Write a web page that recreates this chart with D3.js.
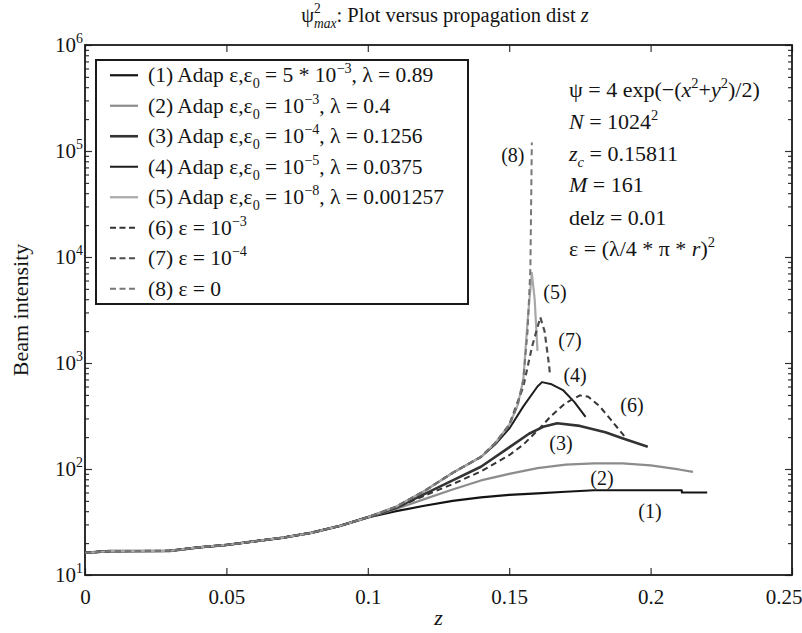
<!DOCTYPE html>
<html><head><meta charset="utf-8">
<script src="https://cdn.jsdelivr.net/npm/d3@7"></script>
<style>
body{margin:0;background:#fff}
text{font-family:"Liberation Serif","Times New Roman",serif;fill:#141414}
</style>
</head><body>
<svg id="c" width="802" height="633"></svg>
<script>
// ---------- data ----------
const xTicks = [0, 0.05, 0.1, 0.15, 0.2, 0.25];
const yExponents = [1, 2, 3, 4, 5, 6];

// shared early part of every curve
const zBase = [0, 0.0088, 0.03, 0.04, 0.05, 0.06, 0.07, 0.08, 0.09, 0.1];
const vBase = [16.2, 16.8, 16.9, 18.2, 19.2, 20.8, 22.5, 25, 29, 35];

const z1 = [0.11, 0.12, 0.13, 0.14, 0.15, 0.16, 0.17, 0.18, 0.19, 0.2, 0.211, 0.2111, 0.22];
const v1 = [40, 45, 50, 54, 57, 59, 61, 63, 63, 63, 63, 60, 60];

const z2 = [0.11, 0.12, 0.13, 0.14, 0.15, 0.16, 0.17, 0.18, 0.19, 0.2, 0.21, 0.215];
const v2 = [42, 52, 64, 78, 90, 102, 110, 113, 113, 108, 99, 94];

const z3 = [0.11, 0.12, 0.13, 0.14, 0.15, 0.157, 0.162, 0.167, 0.175, 0.184, 0.19, 0.199];
const v3 = [43, 58, 78, 105, 160, 215, 250, 270, 255, 222, 195, 162];

const z4 = [0.11, 0.12, 0.13, 0.14, 0.145, 0.15, 0.155, 0.16, 0.1616, 0.165, 0.169, 0.173, 0.177];
const v4 = [44, 62, 92, 130, 170, 240, 390, 600, 660, 630, 556, 430, 310];

const z5 = [0.11, 0.12, 0.13, 0.14, 0.145, 0.15, 0.153, 0.155, 0.1565, 0.158, 0.159, 0.16];
const v5 = [44, 62, 92, 130, 175, 260, 400, 700, 2500, 7100, 4000, 1300];

const z6 = [0.11, 0.12, 0.13, 0.14, 0.15, 0.155, 0.16, 0.165, 0.17, 0.175, 0.178, 0.182, 0.186, 0.191];
const v6 = [43, 56, 72, 95, 135, 170, 230, 320, 420, 495, 480, 390, 290, 200];

const z7 = [0.11, 0.12, 0.13, 0.14, 0.145, 0.15, 0.155, 0.158, 0.161, 0.1625, 0.164, 0.1645];
const v7 = [44, 62, 92, 130, 175, 260, 600, 1400, 2700, 2000, 1000, 750];

const z8 = [0.11, 0.12, 0.13, 0.14, 0.145, 0.15, 0.153, 0.155, 0.1565, 0.1575, 0.158];
const v8 = [44, 62, 92, 130, 175, 260, 400, 700, 2000, 8000, 120000];

const seriesNames = ["(1)", "(2)", "(3)", "(4)", "(5)", "(6)", "(7)", "(8)"];
const labelZ = [0.1998, 0.1828, 0.1683, 0.1733, 0.1662, 0.1934, 0.1715, 0.1513];
const labelV = [40, 82, 176, 770, 4680, 402, 1650, 92000];

// ---------- layout ----------
const svg = d3.select("#c");
const L = 85, R = 792, T = 45, B = 575;
const x = d3.scaleLinear().domain([0, 0.25]).range([L, R]);
const y = d3.scaleLog().domain([10, 1e6]).range([B, T]);

const styles = [
  {c:"#141414", w:2.2, d:null},
  {c:"#8c8c8c", w:2.2, d:null},
  {c:"#333333", w:2.6, d:null},
  {c:"#1e1e1e", w:2.0, d:null},
  {c:"#a8a8a8", w:2.2, d:null},
  {c:"#333333", w:2.0, d:"6,4"},
  {c:"#4d4d4d", w:2.2, d:"6,4"},
  {c:"#777777", w:2.0, d:"6,4"}
];

const tails = [[z1,v1],[z2,v2],[z3,v3],[z4,v4],[z5,v5],[z6,v6],[z7,v7],[z8,v8]];
const series = tails.map(([zs, vs]) =>
  zBase.map((z, i) => [z, vBase[i]]).concat(zs.map((z, i) => [z, vs[i]])));

// rich text helper
function rich(g, px, py, segs, size, anchor) {
  const t = g.append("text").attr("x", px).attr("y", py)
    .attr("font-size", size).attr("text-anchor", anchor || "start");
  let cur = 0, prevW = 0;
  segs.forEach(s => {
    const target = s.sup ? -size * 0.42 : s.sub ? size * 0.28 : 0;
    const ts = t.append("tspan").text(s.t).attr("dy", (target - cur).toFixed(2));
    cur = target;
    if (s.sup || s.sub) ts.attr("font-size", size * 0.66);
    if (s.i) ts.attr("font-style", "italic");
    if (s.back) ts.attr("dx", -prevW);
    prevW = ts.node().getComputedTextLength();
  });
  return t;
}

// ---------- axes ----------
const minor = [];
for (let e = 1; e < 6; e++) for (let m = 2; m < 10; m++) minor.push(m * Math.pow(10, e));
const major = yExponents.map(e => Math.pow(10, e));

const axG = svg.append("g");
const xAxisG = axG.append("g").attr("transform", `translate(0,${B})`)
  .call(d3.axisBottom(x).tickValues(xTicks).tickSize(-7).tickPadding(14)
    .tickFormat(d => d === 0 ? "0" : String(d)));
axG.append("g").attr("transform", `translate(0,${T})`)
  .call(d3.axisTop(x).tickValues(xTicks).tickSize(-7).tickFormat(""));
axG.append("g").attr("transform", `translate(${L},0)`)
  .call(d3.axisLeft(y).tickValues(major).tickSize(-7).tickFormat(""));
axG.append("g").attr("transform", `translate(${L},0)`)
  .call(d3.axisLeft(y).tickValues(minor).tickSize(-4).tickFormat(""));
axG.append("g").attr("transform", `translate(${R},0)`)
  .call(d3.axisRight(y).tickValues(major).tickSize(-7).tickFormat(""));
axG.append("g").attr("transform", `translate(${R},0)`)
  .call(d3.axisRight(y).tickValues(minor).tickSize(-4).tickFormat(""));
axG.selectAll(".domain").remove();
axG.selectAll(".tick line").attr("stroke", "#333").attr("stroke-width", 1.2);
axG.selectAll(".tick text").attr("font-size", 21).attr("font-family", '"Liberation Serif",serif').attr("fill", "#141414");
// last label sits against the page edge
xAxisG.selectAll(".tick text").filter(d => d === 0.25).attr("text-anchor", "end").attr("dx", 10);

// y tick labels 10^n
yExponents.forEach(e => {
  rich(svg, 83, y(Math.pow(10, e)) + 7, [{t:"10"}, {t:String(e), sup:true}], 21, "end");
});

svg.append("rect").attr("x", L).attr("y", T).attr("width", R - L).attr("height", B - T)
  .attr("fill", "none").attr("stroke", "#1a1a1a").attr("stroke-width", 1.8);

// ---------- curves ----------
const line = d3.line().x(d => x(d[0])).y(d => y(d[1]));
series.forEach((s, i) => {
  svg.append("path").datum(s).attr("d", line).attr("fill", "none")
    .attr("stroke", styles[i].c).attr("stroke-width", styles[i].w)
    .attr("stroke-dasharray", styles[i].d).attr("stroke-linejoin", "round");
});

// curve labels
seriesNames.forEach((n, i) => {
  svg.append("text").attr("x", x(labelZ[i])).attr("y", y(labelV[i])).attr("dy", "0.35em")
    .attr("text-anchor", "middle").attr("font-size", 20).text(n);
});

// ---------- legend ----------
const lg = svg.append("g");
const lgX = 96, lgY = 60, lgW = 372, lgH = 244, rowH = lgH / 8;
lg.append("rect").attr("x", lgX).attr("y", lgY).attr("width", lgW).attr("height", lgH)
  .attr("fill", "#fff").attr("stroke", "#1a1a1a").attr("stroke-width", 2);
const legendTexts = [
  [{t:"(1) Adap ε,ε"}, {t:"0", sub:true}, {t:" = 5 * 10"}, {t:"−3", sup:true}, {t:", λ = 0.89"}],
  [{t:"(2) Adap ε,ε"}, {t:"0", sub:true}, {t:" = 10"}, {t:"−3", sup:true}, {t:", λ = 0.4"}],
  [{t:"(3) Adap ε,ε"}, {t:"0", sub:true}, {t:" = 10"}, {t:"−4", sup:true}, {t:", λ = 0.1256"}],
  [{t:"(4) Adap ε,ε"}, {t:"0", sub:true}, {t:" = 10"}, {t:"−5", sup:true}, {t:", λ = 0.0375"}],
  [{t:"(5) Adap ε,ε"}, {t:"0", sub:true}, {t:" = 10"}, {t:"−8", sup:true}, {t:", λ = 0.001257"}],
  [{t:"(6) ε = 10"}, {t:"−3", sup:true}],
  [{t:"(7) ε = 10"}, {t:"−4", sup:true}],
  [{t:"(8) ε = 0"}]
];
legendTexts.forEach((segs, i) => {
  const cy = lgY + rowH * (i + 0.5);
  lg.append("line").attr("x1", 110).attr("x2", 138).attr("y1", cy).attr("y2", cy)
    .attr("stroke", styles[i].c).attr("stroke-width", styles[i].w)
    .attr("stroke-dasharray", styles[i].d ? "6,3.5" : null);
  rich(lg, 148, cy + 7, segs, 21.5, "start");
});

// ---------- annotation ----------
const ann = [
  [{t:"ψ = 4 exp(−("}, {t:"x", i:true}, {t:"2", sup:true}, {t:"+"}, {t:"y", i:true}, {t:"2", sup:true}, {t:")/2)"}],
  [{t:"N", i:true}, {t:" = 1024"}, {t:"2", sup:true}],
  [{t:"z", i:true}, {t:"c", sub:true, i:true}, {t:" = 0.15811"}],
  [{t:"M", i:true}, {t:" = 161"}],
  [{t:"del"}, {t:"z", i:true}, {t:" = 0.01"}],
  [{t:"ε = (λ/4 * π * "}, {t:"r", i:true}, {t:")"}, {t:"2", sup:true}]
];
const annY = [90, 122, 154, 185, 218, 249];
ann.forEach((segs, i) => rich(svg, 569, annY[i] + 7, segs, 22, "start"));

// ---------- titles ----------
rich(svg, 445, 22, [{t:"ψ"}, {t:"2", sup:true}, {t:"max", sub:true, i:true, back:true},
  {t:": Plot versus propagation dist "}, {t:"z", i:true}], 20.5, "middle");
svg.append("text").attr("x", (L + R) / 2).attr("y", 625).attr("text-anchor", "middle")
  .attr("font-size", 22).attr("font-style", "italic").text("z");
svg.append("text").attr("transform", `translate(28,310) rotate(-90)`)
  .attr("text-anchor", "middle").attr("font-size", 22).text("Beam intensity");
</script>
</body></html>
